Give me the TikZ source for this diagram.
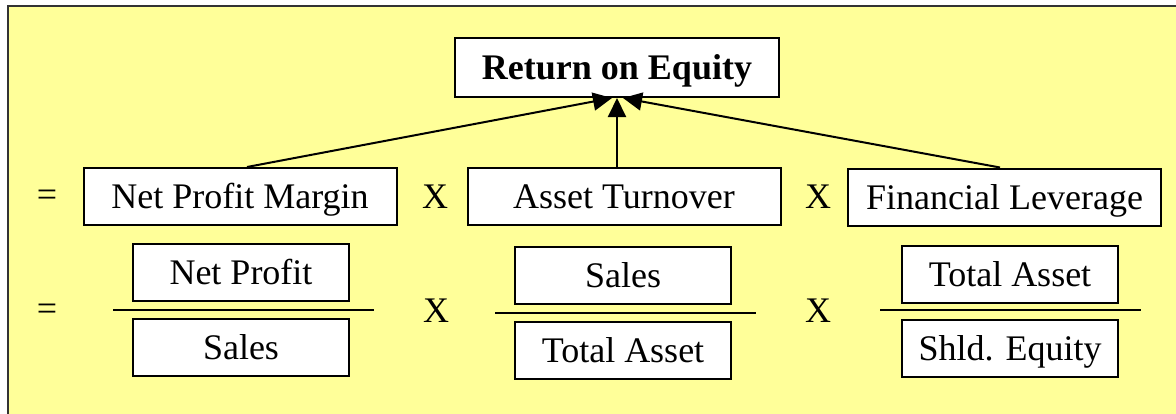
\documentclass[tikz,border=0pt]{standalone}
\usepackage{fontspec}
\setmainfont{Liberation Serif}
\usetikzlibrary{arrows.meta}
\definecolor{panel}{HTML}{FFFF99}
\definecolor{frameline}{HTML}{333333}
\begin{document}
\begin{tikzpicture}[x=1pt,y=-1pt,
  txt/.style={font=\fontsize{36}{43}\selectfont, text height=24pt, text depth=0pt, inner sep=0pt},
  box/.style={txt, draw=black, line width=2pt, fill=white, align=center},
  widebox/.style={box, minimum width=313pt, minimum height=57pt},
  fracbox/.style={box, minimum width=216pt, minimum height=57pt},
  link/.style={line width=2pt, -{Triangle[length=19pt,width=18pt]}},
  bar/.style={line width=2pt}]
\useasboundingbox (0,0) rectangle (1176,413);
% background panel (runs past the right and bottom edges)
\path[fill=panel, draw=frameline, line width=2pt] (8,6) rectangle (1200,440);

% top result
\node[box, minimum width=324pt, minimum height=59pt, font=\fontsize{36}{43}\selectfont\bfseries] (roe) at (617,67.5) {Return on Equity};

% ratio row
\node[txt] (eq1) at (47,194) {=};
\node[widebox] (npm) at (240,196.5) {Net Profit Margin};
\node[txt] (x1) at (435,196.5) {X};
\node[widebox] (at) at (624,196.5) {Asset Turnover};
\node[txt] (x2) at (818,196.5) {X};
\node[widebox] (fl) at (1004.5,197) {Financial Leverage};

% fraction row
\node[txt] (eq2) at (47,308) {=};
\node[fracbox] (np) at (241,272) {Net Profit};
\node[fracbox] (s1) at (241,347.5) {Sales};
\coordinate (f1l) at (113,310);
\coordinate (f1r) at (374,310);
\draw[bar] (f1l) -- (f1r);

\node[txt] (x3) at (436,310) {X};
\node[fracbox] (s2) at (623,275.5) {Sales};
\node[fracbox] (ta1) at (623,350) {Total Asset};
\coordinate (f2l) at (495,313);
\coordinate (f2r) at (756,313);
\draw[bar] (f2l) -- (f2r);

\node[txt] (x4) at (818,310) {X};
\node[fracbox] (ta2) at (1010,274) {Total Asset};
\node[fracbox] (se) at (1010,348) {Shld. Equity};
\coordinate (f3l) at (880,310);
\coordinate (f3r) at (1141,310);
\draw[bar] (f3l) -- (f3r);

% links into the result
\draw[link] ([xshift=7pt]npm.north) -- ([xshift=-5pt]roe.south);
\draw[link] ([xshift=-7pt]at.north) -- (roe.south);
\draw[link] ([xshift=-4.5pt]fl.north) -- ([xshift=6pt]roe.south);
\end{tikzpicture}
\end{document}
